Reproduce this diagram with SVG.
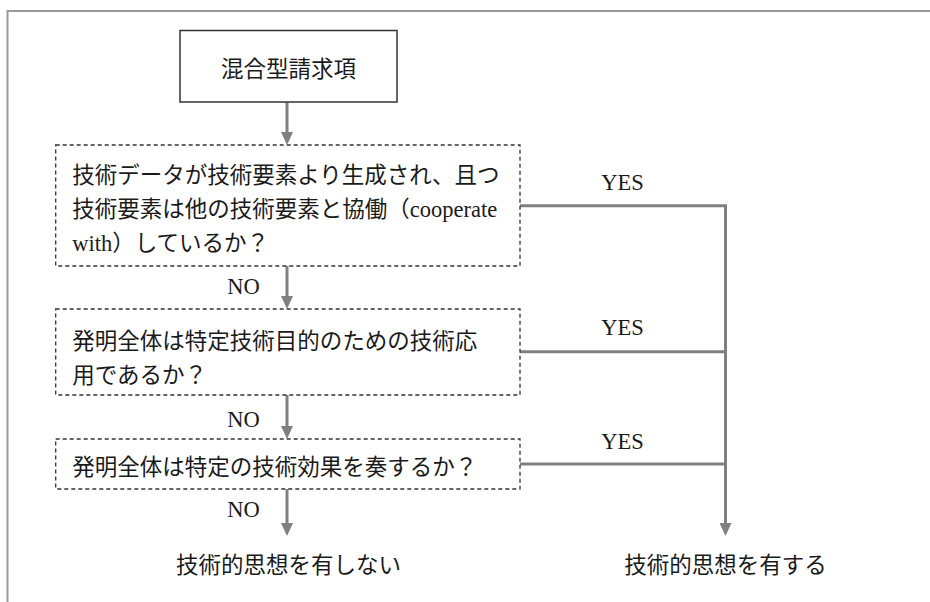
<svg xmlns="http://www.w3.org/2000/svg" width="930" height="602" viewBox="0 0 930 602">
<style>
text{font-family:"Liberation Serif","Noto Sans CJK JP",serif;font-size:22.5px;fill:#1a1a1a}
.mid{text-anchor:middle}
.dash{fill:#fff;stroke:#333;stroke-width:1.3;stroke-dasharray:4 3}
.solid{fill:#fff;stroke:#333;stroke-width:1.5}
.conn{fill:none;stroke:#808080;stroke-width:3}
.frame{fill:none;stroke:#999;stroke-width:2}
</style>
<defs>
<marker id="ah" markerUnits="userSpaceOnUse" markerWidth="14" markerHeight="12" refX="0" refY="6" orient="auto">
<path d="M0,0 L13,6 L0,12 z" fill="#808080"/>
</marker>
</defs>
<rect width="930" height="602" fill="#fff"/>
<path class="frame" d="M7.5,602 V11 H930"/>
<g id="connectors">
<path class="conn" d="M287,102 V132" marker-end="url(#ah)"/>
<path class="conn" d="M287,266 V296" marker-end="url(#ah)"/>
<path class="conn" d="M287,395 V426" marker-end="url(#ah)"/>
<path class="conn" d="M287,489 V523" marker-end="url(#ah)"/>
<path class="conn" d="M520,205.7 H725.5 V523" marker-end="url(#ah)"/>
<path class="conn" d="M520,351.7 H725.5"/>
<path class="conn" d="M520,464 H725.5"/>
<text class="mid" x="243.5" y="294">NO</text>
<text class="mid" x="243.5" y="426.5">NO</text>
<text class="mid" x="243.5" y="517">NO</text>
<text class="mid" x="622.5" y="190">YES</text>
<text class="mid" x="622.5" y="335">YES</text>
<text class="mid" x="622.5" y="449">YES</text>
</g>
<g id="start">
<rect class="solid" x="180" y="30.5" width="217" height="71.5"/>
<text class="mid" x="288.5" y="77">混合型請求項</text>
</g>
<g id="q1">
<rect class="dash" x="55.7" y="145" width="464.3" height="121"/>
<text x="72.3" y="183">技術データが技術要素より生成され、且つ</text>
<text x="72.3" y="217">技術要素は他の技術要素と協働（cooperate</text>
<text x="72.3" y="251">with）しているか？</text>
</g>
<g id="q2">
<rect class="dash" x="55.7" y="309" width="464.3" height="86"/>
<text x="72.3" y="349">発明全体は特定技術目的のための技術応</text>
<text x="72.3" y="383">用であるか？</text>
</g>
<g id="q3">
<rect class="dash" x="55.7" y="439" width="464.3" height="50"/>
<text x="72.3" y="475">発明全体は特定の技術効果を奏するか？</text>
</g>
<g id="result-no">
<text class="mid" x="288.5" y="573">技術的思想を有しない</text>
</g>
<g id="result-yes">
<text class="mid" x="725.5" y="573">技術的思想を有する</text>
</g>
</svg>
